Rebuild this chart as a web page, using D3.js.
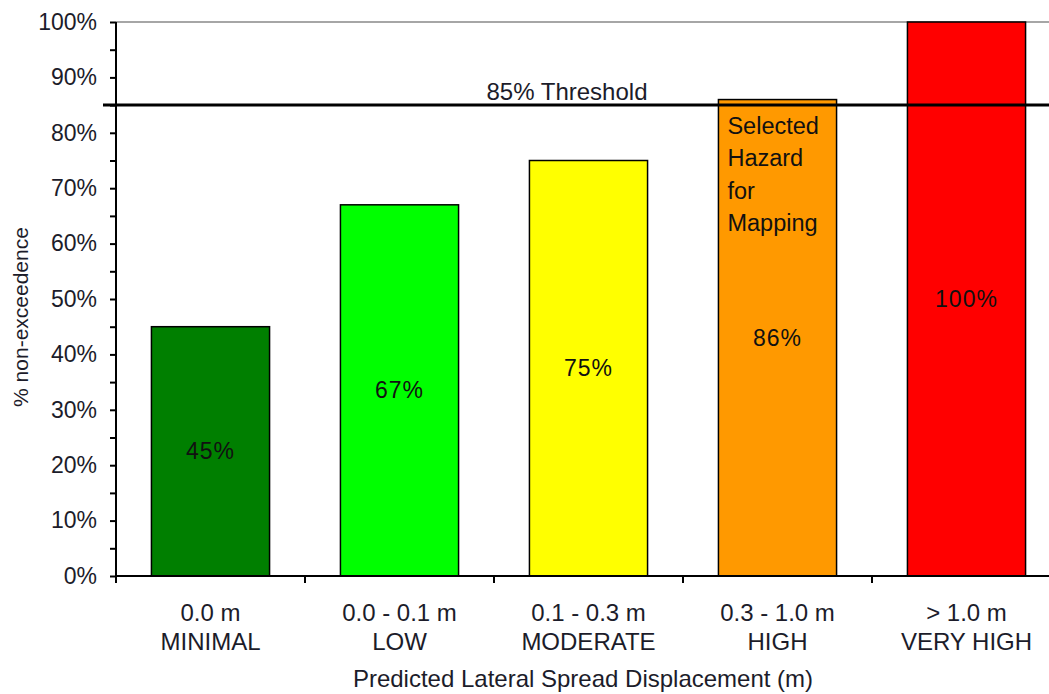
<!DOCTYPE html>
<html>
<head>
<meta charset="utf-8">
<script src="https://cdn.jsdelivr.net/npm/d3@7"></script>
<style>
  html, body { margin: 0; padding: 0; background: #fff; }
  svg { display: block; }
  text { font-family: "Liberation Sans", Arial, sans-serif; fill: #1c1c2a; }
</style>
</head>
<body>
<svg id="chart" width="1049" height="694"></svg>
<script>
// Lateral spread hazard classes and their % non-exceedence
const rangeLabels = ["0.0 m", "0.0 - 0.1 m", "0.1 - 0.3 m", "0.3 - 1.0 m", "> 1.0 m"];
const classLabels = ["MINIMAL", "LOW", "MODERATE", "HIGH", "VERY HIGH"];
const values = [45, 67, 75, 86, 100];
const barColors = ["#007f00", "#00ff00", "#ffff00", "#ff9900", "#ff0000"];
const threshold = 85;
const yTicks = [0, 10, 20, 30, 40, 50, 60, 70, 80, 90, 100];
const yMinorTicks = [5, 15, 25, 35, 45, 55, 65, 75, 85, 95];
const selectedNote = ["Selected", "Hazard", "for", "Mapping"];

(function () {
  const svg = d3.select("#chart");
  const plotLeft = 116, plotRight = 1061, plotTop = 22, plotBottom = 576;

  const x = d3.scaleBand().domain(d3.range(values.length)).range([plotLeft, plotRight])
    .paddingInner(0.375).paddingOuter(0.1875);
  const xEdge = d3.scaleLinear().domain([0, values.length]).range([plotLeft, plotRight]);
  const y = d3.scaleLinear().domain([0, 100]).range([plotBottom, plotTop]);

  // top frame
  svg.append("line").attr("x1", plotLeft).attr("x2", plotRight).attr("y1", y(100)).attr("y2", y(100))
    .attr("stroke", "#888").attr("stroke-width", 1.5);

  // bars
  svg.selectAll("rect.bar").data(values).join("rect")
    .attr("class", "bar")
    .attr("x", (d, i) => x(i)).attr("width", x.bandwidth())
    .attr("y", d => y(d)).attr("height", d => y(0) - y(d))
    .attr("fill", (d, i) => barColors[i])
    .attr("stroke", "#000").attr("stroke-width", 1.5);

  // value labels at mid-bar
  svg.selectAll("text.val").data(values).join("text")
    .attr("class", "val")
    .attr("x", (d, i) => x(i) + x.bandwidth() / 2)
    .attr("y", d => (y(d) + y(0)) / 2)
    .attr("dy", "0.35em").attr("text-anchor", "middle")
    .attr("font-size", 23).attr("letter-spacing", 1)
    .style("fill", "#111")
    .text(d => d + "%");

  // note inside the selected bar
  const note = svg.append("text").attr("font-size", 23.5).style("fill", "#111");
  selectedNote.forEach((t, k) => {
    note.append("tspan").attr("x", x(3) + 9).attr("y", y(86) + 34 + k * 32.5).text(t);
  });

  // threshold line
  svg.append("line").attr("x1", plotLeft - 13).attr("x2", plotRight)
    .attr("y1", y(threshold)).attr("y2", y(threshold))
    .attr("stroke", "#000").attr("stroke-width", 3);
  svg.append("text").attr("x", 567).attr("y", y(threshold) - 5)
    .attr("text-anchor", "middle").attr("font-size", 24)
    .text(threshold + "% Threshold");

  // y axis
  const yAxis = svg.append("g").attr("transform", `translate(${plotLeft},0)`)
    .call(d3.axisLeft(y).tickValues(yTicks).tickFormat(d => d + "%").tickSize(6).tickPadding(13));
  yAxis.append("g").call(d3.axisLeft(y).tickValues(yMinorTicks).tickFormat("").tickSize(6));
  svg.selectAll("g .domain").remove();
  svg.append("line").attr("x1", plotLeft).attr("x2", plotLeft).attr("y1", plotTop).attr("y2", plotBottom + 6)
    .attr("stroke", "#000").attr("stroke-width", 2);
  yAxis.selectAll(".tick line").attr("stroke", "#000").attr("stroke-width", 2);
  yAxis.selectAll(".tick text").attr("font-size", 23)
    .style("font-family", '"Liberation Sans", Arial, sans-serif').style("fill", "#1c1c2a");

  // x axis baseline and category boundary ticks
  svg.append("line").attr("x1", plotLeft).attr("x2", plotRight).attr("y1", plotBottom).attr("y2", plotBottom)
    .attr("stroke", "#000").attr("stroke-width", 2);
  svg.selectAll("line.xtick").data(d3.range(values.length + 1)).join("line")
    .attr("class", "xtick")
    .attr("x1", d => xEdge(d)).attr("x2", d => xEdge(d))
    .attr("y1", plotBottom).attr("y2", plotBottom + 7)
    .attr("stroke", "#000").attr("stroke-width", 2);

  // category labels
  const cat = svg.selectAll("text.cat").data(rangeLabels).join("text")
    .attr("class", "cat").attr("text-anchor", "middle").attr("font-size", 24);
  cat.append("tspan").attr("x", (d, i) => x(i) + x.bandwidth() / 2).attr("y", 621).text(d => d);
  cat.append("tspan").attr("x", (d, i) => x(i) + x.bandwidth() / 2).attr("y", 650).text((d, i) => classLabels[i]);

  // axis titles
  svg.append("text").attr("x", 583).attr("y", 687).attr("text-anchor", "middle").attr("font-size", 24)
    .text("Predicted Lateral Spread Displacement (m)");
  svg.append("text").attr("transform", "translate(28,317) rotate(-90)").attr("text-anchor", "middle")
    .attr("font-size", 21).text("% non-exceedence");
})();
</script>
</body>
</html>
